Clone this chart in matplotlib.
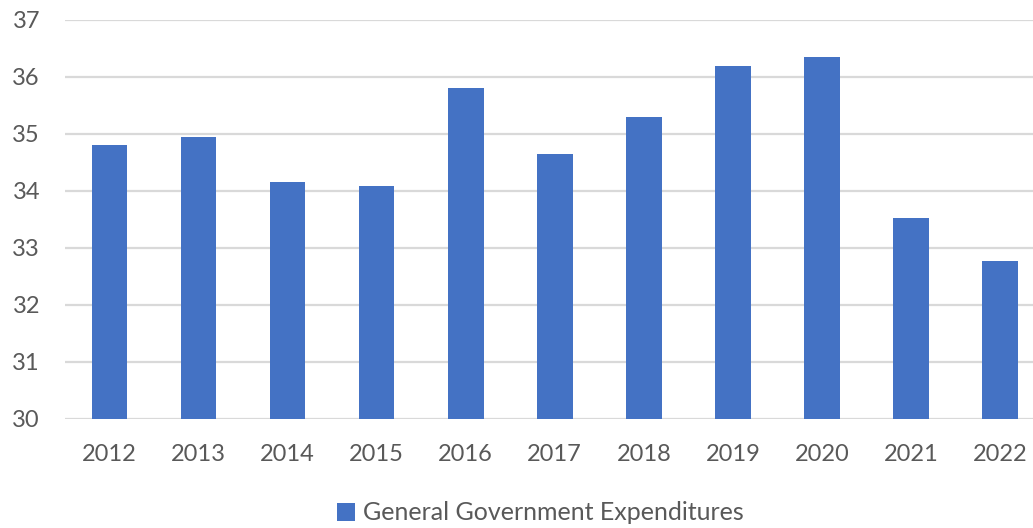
import matplotlib
matplotlib.use('Agg')
import matplotlib.pyplot as plt
from matplotlib.patches import Patch

# data
years = ['2012', '2013', '2014', '2015', '2016', '2017', '2018', '2019', '2020', '2021', '2022']
expenditures = [34.80, 34.95, 34.15, 34.09, 35.81, 34.64, 35.30, 36.19, 36.35, 33.53, 32.76]
series_name = 'General Government Expenditures'

plt.rcParams['font.family'] = ['Lato', 'DejaVu Sans']

bar_color = '#4472C4'
grid_color = '#D9D9D9'
text_color = '#595959'

fig = plt.figure(figsize=(10.33, 5.28), dpi=100)
ax = fig.add_axes([65 / 1033, 1 - 418.7 / 528, 979.5 / 1033, 398.7 / 528])

x = list(range(len(years)))
ax.bar(x, expenditures, width=0.4, color=bar_color, zorder=3)

ax.set_ylim(30, 37)
ax.set_xlim(-0.5, len(years) - 0.5)
ax.set_yticks(range(30, 38))
ax.set_xticks(x)
ax.set_xticklabels(years)

ax.grid(axis='y', color=grid_color, linewidth=1.6, zorder=0)
for s in ax.spines.values():
    s.set_visible(False)
ax.tick_params(axis='both', length=0, labelsize=17, colors=text_color)
ax.tick_params(axis='y', pad=18)
ax.tick_params(axis='x', pad=18)

handle = Patch(facecolor=bar_color, edgecolor='none')
fig.legend([handle], [series_name], loc='center', bbox_to_anchor=(540 / 1033, 1 - 513 / 528),
           frameon=False, fontsize=18, labelcolor=text_color,
           handlelength=0.75, handleheight=0.75, handletextpad=0.3)

fig.savefig('out.png', dpi=100)
